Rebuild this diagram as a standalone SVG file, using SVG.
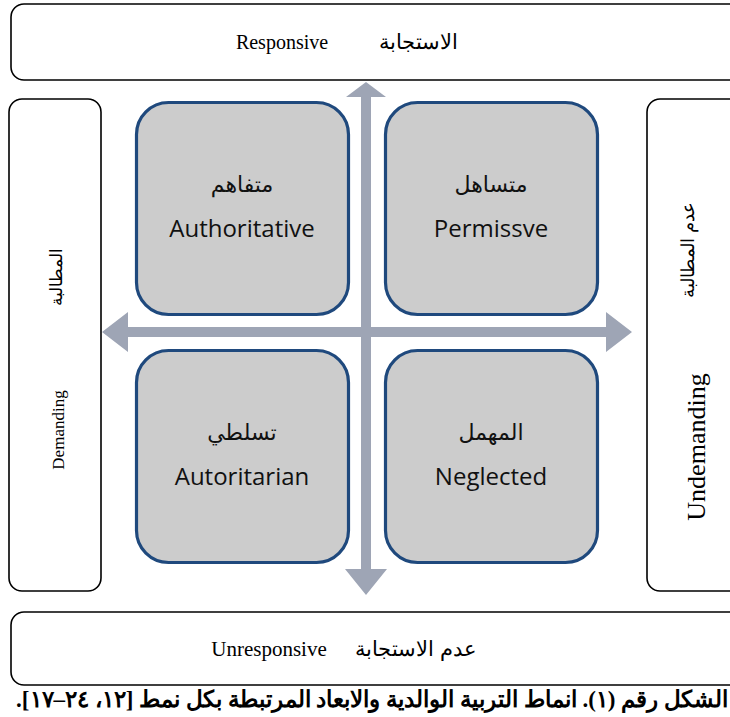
<svg xmlns="http://www.w3.org/2000/svg" width="730" height="717" viewBox="0 0 730 717">
<style>
.frame{fill:#fff;stroke:#000;stroke-width:1.6}
.quad{fill:#cccccc;stroke:#1f497d;stroke-width:3.2}
.arr{fill:#9ea5b5}
.ser{font-family:"Liberation Serif","DejaVu Serif",serif;fill:#000}
.san{font-family:"Open Sans","Noto Sans","DejaVu Sans",sans-serif;fill:#111}
.en{font-size:24px}
.ar{font-size:22px}
</style>
<rect width="730" height="717" fill="#fff"/>
<g id="responsive">
<rect class="frame" x="11" y="4" width="740" height="76" rx="13"/>
<text class="ser" x="282" y="49" font-size="20" text-anchor="middle">Responsive</text>
<text class="ser" x="418" y="49" font-size="21" text-anchor="middle" direction="rtl">الاستجابة</text>
</g>
<g id="demanding">
<rect class="frame" x="9" y="99" width="92" height="492" rx="13"/>
<text class="ser" transform="translate(62,277) rotate(-90)" font-size="17" text-anchor="middle" direction="rtl">المطالبة</text>
<text class="ser" transform="translate(64,430) rotate(-90)" font-size="17" text-anchor="middle">Demanding</text>
</g>
<g id="undemanding">
<rect class="frame" x="647" y="99" width="100" height="492" rx="13"/>
<text class="ser" transform="translate(694,250) rotate(-90)" font-size="18" text-anchor="middle" direction="rtl">عدم المطالبة</text>
<text class="ser" transform="translate(705,447) rotate(-90)" font-size="26" text-anchor="middle">Undemanding</text>
</g>
<g id="unresponsive">
<rect class="frame" x="11" y="612" width="740" height="73" rx="13"/>
<text class="ser" x="269" y="656" font-size="21" text-anchor="middle">Unresponsive</text>
<text class="ser" x="416" y="656" font-size="21" text-anchor="middle" direction="rtl">عدم الاستجابة</text>
</g>
<g id="connectors">
<polygon class="arr" points="366,82 386,97 371,97 371,569 387,569 366,595 345,569 361,569 361,97 346,97"/>
<polygon class="arr" points="102,332 128,312 128,327 606,327 606,312 632,332 606,352 606,337 128,337 128,352"/>
</g>
<g id="authoritative">
<rect class="quad" x="136.5" y="102.5" width="212" height="212" rx="32"/>
<text class="san ar" x="242" y="192" text-anchor="middle" direction="rtl">متفاهم</text>
<text class="san en" x="242" y="237" text-anchor="middle">Authoritative</text>
</g>
<g id="permissive">
<rect class="quad" x="385.5" y="102.5" width="212" height="212" rx="32"/>
<text class="san ar" x="491" y="192" text-anchor="middle" direction="rtl">متساهل</text>
<text class="san en" x="491" y="237" text-anchor="middle">Permissve</text>
</g>
<g id="autoritarian">
<rect class="quad" x="136.5" y="350.5" width="212" height="212" rx="32"/>
<text class="san ar" x="242" y="440" text-anchor="middle" direction="rtl">تسلطي</text>
<text class="san en" x="242" y="485" text-anchor="middle">Autoritarian</text>
</g>
<g id="neglected">
<rect class="quad" x="385.5" y="350.5" width="212" height="212" rx="32"/>
<text class="san ar" x="491" y="440" text-anchor="middle" direction="rtl">المهمل</text>
<text class="san en" x="491" y="485" text-anchor="middle">Neglected</text>
</g>
<g id="caption">
<text class="ser" x="728" y="707" font-size="23" font-weight="bold" text-anchor="start" direction="rtl">الشكل رقم (١). انماط التربية الوالدية والابعاد المرتبطة بكل نمط [١٢، ٢٤–١٧].</text>
</g>
</svg>
